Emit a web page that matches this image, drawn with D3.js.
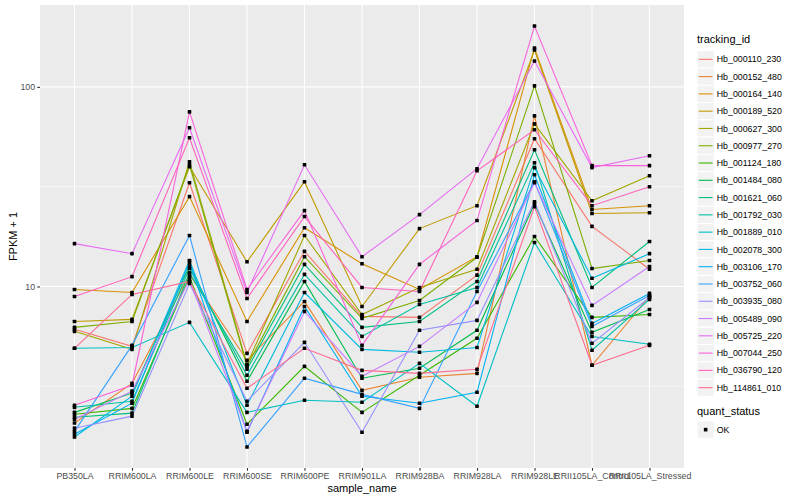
<!DOCTYPE html>
<html>
<head>
<meta charset="utf-8">
<script src="https://cdn.jsdelivr.net/npm/d3@7"></script>
<style>
body { margin: 0; background: #fff; }
text { font-family: "Liberation Sans", Arial, Helvetica, sans-serif; }
</style>
</head>
<body>
<svg id="chart" width="800" height="500"></svg>
<script>
var sample_names = ["PB350LA", "RRIM600LA", "RRIM600LE", "RRIM600SE", "RRIM600PE", "RRIM901LA",
    "RRIM928BA", "RRIM928LA", "RRIM928LE", "RRII105LA_Control", "RRII105LA_Stressed"];

var tracking_ids = ["Hb_000110_230", "Hb_000152_480", "Hb_000164_140", "Hb_000189_520", "Hb_000627_300",
    "Hb_000977_270", "Hb_001124_180", "Hb_001484_080", "Hb_001621_060", "Hb_001792_030",
    "Hb_001889_010", "Hb_002078_300", "Hb_003106_170", "Hb_003752_060", "Hb_003935_080",
    "Hb_005489_090", "Hb_005725_220", "Hb_007044_250", "Hb_036790_120", "Hb_114861_010"];

// FPKM + 1, one row per tracking_id, one value per sample_name
var fpkm_plus_one = [
    [6.10, 5.01, 33.1, 4.62, 15.0, 7.08, 7.00, 11.4, 55.0, 20.0, 12.2],
    [2.07, 3.27, 11.5, 4.27, 8.41, 3.02, 3.51, 3.67, 71.6, 4.03, 8.91],
    [9.66, 9.33, 28.2, 6.68, 19.7, 13.0, 9.66, 14.1, 156.7, 24.3, 25.4],
    [6.68, 6.84, 39.8, 13.3, 33.5, 7.94, 19.5, 25.4, 153.1, 23.2, 23.4],
    [5.96, 4.84, 42.2, 4.07, 18.0, 7.24, 9.89, 12.2, 65.3, 26.9, 35.9],
    [6.24, 6.68, 40.7, 3.98, 14.1, 6.92, 8.51, 14.0, 101.2, 12.3, 13.5],
    [2.29, 2.45, 11.2, 2.04, 3.98, 2.34, 3.59, 5.50, 17.8, 7.00, 7.24],
    [2.34, 2.92, 12.7, 3.35, 10.6, 3.47, 3.89, 6.03, 26.0, 5.89, 7.67],
    [2.21, 2.32, 11.7, 3.85, 12.9, 6.24, 6.68, 10.6, 48.4, 9.89, 16.8],
    [2.48, 2.66, 12.3, 3.59, 11.5, 5.62, 8.13, 9.89, 41.7, 4.79, 8.61],
    [4.90, 4.95, 6.61, 2.34, 2.69, 2.63, 4.12, 2.51, 16.6, 5.62, 5.13],
    [1.76, 2.82, 13.5, 2.54, 9.33, 4.84, 4.68, 4.95, 39.4, 11.0, 14.6],
    [1.82, 2.60, 13.2, 1.86, 7.94, 2.82, 2.60, 2.95, 36.3, 6.53, 9.23],
    [1.88, 5.07, 18.0, 1.57, 3.47, 2.88, 2.45, 9.44, 33.5, 6.31, 9.02],
    [1.95, 2.24, 10.35, 2.66, 5.25, 1.86, 6.03, 6.76, 26.6, 5.19, 8.81],
    [2.16, 2.99, 10.8, 1.88, 7.50, 3.55, 5.01, 8.32, 33.1, 8.04, 12.6],
    [16.4, 14.6, 62.4, 9.33, 40.7, 14.1, 22.9, 38.9, 134.9, 39.4, 45.2],
    [2.54, 3.20, 75.0, 9.66, 24.0, 5.07, 12.9, 21.4, 201.8, 40.3, 40.3],
    [8.91, 11.2, 55.6, 8.71, 22.4, 9.89, 9.44, 38.0, 61.0, 25.4, 31.6],
    [4.90, 9.12, 10.6, 3.09, 4.90, 3.80, 3.67, 3.85, 25.1, 4.03, 5.07]
];

var quant_status = ["OK"];
var y_breaks = [10, 100];
var y_minor_breaks = [Math.pow(10, 0.5), Math.pow(10, 1.5)];

// ggplot2 default hue palette for 20 levels
var hue_colors = ["#F8766D", "#EA8331", "#D89000", "#C09B00", "#A3A500", "#7CAE00", "#39B600",
    "#00BB4E", "#00BF7D", "#00C1A3", "#00BFC4", "#00BAE0", "#00B0F6", "#35A2FF", "#9590FF",
    "#C77CFF", "#E76BF3", "#FA62DB", "#FF62BC", "#FF6C91"];

var panel = {left: 40, right: 684, top: 5, bottom: 468};
var pt = 3.6;
var svg = d3.select("#chart");

var series = tracking_ids.map(function(id, i) {
    return {
        id: id,
        color: hue_colors[i],
        values: sample_names.map(function(s, j) {
            return {sample: s, value: fpkm_plus_one[i][j]};
        })
    };
});

// log10 expansion of 5% like ggplot
var all_values = d3.merge(fpkm_plus_one);
var log_lo = Math.log10(d3.min(all_values)), log_hi = Math.log10(d3.max(all_values));
var pad = (log_hi - log_lo) * 0.05;

var x = d3.scalePoint()
    .domain(sample_names)
    .range([panel.left, panel.right])
    .padding(0.6);

var y = d3.scaleLog()
    .domain([Math.pow(10, log_lo - pad), Math.pow(10, log_hi + pad)])
    .range([panel.bottom, panel.top]);

svg.append("rect")
    .attr("x", panel.left)
    .attr("y", panel.top)
    .attr("width", panel.right - panel.left)
    .attr("height", panel.bottom - panel.top)
    .attr("fill", "#EBEBEB");

var grid = svg.append("g");

grid.selectAll(".minor")
    .data(y_minor_breaks)
    .enter()
    .append("line")
    .attr("x1", panel.left).attr("x2", panel.right)
    .attr("y1", function(d) { return y(d); })
    .attr("y2", function(d) { return y(d); })
    .attr("stroke", "#fff")
    .attr("stroke-width", 0.55);

grid.selectAll(".major-y")
    .data(y_breaks)
    .enter()
    .append("line")
    .attr("x1", panel.left).attr("x2", panel.right)
    .attr("y1", function(d) { return y(d); })
    .attr("y2", function(d) { return y(d); })
    .attr("stroke", "#fff")
    .attr("stroke-width", 1.1);

grid.selectAll(".major-x")
    .data(sample_names)
    .enter()
    .append("line")
    .attr("x1", function(d) { return x(d); })
    .attr("x2", function(d) { return x(d); })
    .attr("y1", panel.top).attr("y2", panel.bottom)
    .attr("stroke", "#fff")
    .attr("stroke-width", 1.1);

var line = d3.line()
    .x(function(d) { return x(d.sample); })
    .y(function(d) { return y(d.value); });

svg.append("g")
    .selectAll("path")
    .data(series)
    .enter()
    .append("path")
    .attr("d", function(d) { return line(d.values); })
    .attr("fill", "none")
    .attr("stroke", function(d) { return d.color; })
    .attr("stroke-width", 1.1);

svg.append("g")
    .selectAll("rect")
    .data(d3.merge(series.map(function(s) { return s.values; })))
    .enter()
    .append("rect")
    .attr("x", function(d) { return x(d.sample) - pt / 2; })
    .attr("y", function(d) { return y(d.value) - pt / 2; })
    .attr("width", pt)
    .attr("height", pt)
    .attr("rx", 0.6)
    .attr("fill", "#000");

// axes
var y_axis = svg.append("g")
    .attr("transform", "translate(" + panel.left + ",0)")
    .call(d3.axisLeft(y).tickValues(y_breaks).tickFormat(d3.format("d")).tickSize(2.75).tickPadding(2.2));
var x_axis = svg.append("g")
    .attr("transform", "translate(0," + panel.bottom + ")")
    .call(d3.axisBottom(x).tickSize(2.75).tickPadding(2.2));

[x_axis, y_axis].forEach(function(ax) {
    ax.select(".domain").remove();
    ax.selectAll(".tick line").attr("stroke", "#333333").attr("stroke-width", 1.1);
    ax.selectAll(".tick text")
        .attr("fill", "#4D4D4D")
        .style("font-size", "8.8px")
        .style("font-family", "'Liberation Sans', Arial, sans-serif");
});

svg.append("text")
    .attr("x", (panel.left + panel.right) / 2)
    .attr("y", 492)
    .attr("text-anchor", "middle")
    .style("font-size", "11px")
    .text("sample_name");

svg.append("text")
    .attr("transform", "translate(17," + (panel.top + panel.bottom) / 2 + ") rotate(-90)")
    .attr("text-anchor", "middle")
    .style("font-size", "11px")
    .text("FPKM + 1");

// legend: tracking_id
var legend = svg.append("g").attr("transform", "translate(697,0)");
var key_size = 17.28, key_top = 50.7;

legend.append("text")
    .attr("x", 0).attr("y", 42.5)
    .style("font-size", "11px")
    .text("tracking_id");

var keys = legend.selectAll(".key")
    .data(series)
    .enter()
    .append("g")
    .attr("transform", function(d, i) { return "translate(0," + (key_top + i * key_size) + ")"; });

keys.append("rect")
    .attr("width", key_size).attr("height", key_size)
    .attr("fill", "#F2F2F2")
    .attr("stroke", "#fff")
    .attr("stroke-width", 1);

keys.append("line")
    .attr("x1", 1.7).attr("x2", key_size - 1.7)
    .attr("y1", key_size / 2).attr("y2", key_size / 2)
    .attr("stroke", function(d) { return d.color; })
    .attr("stroke-width", 1.1);

keys.append("text")
    .attr("x", key_size + 2.5)
    .attr("y", key_size / 2 + 3.1)
    .style("font-size", "8.8px")
    .text(function(d) { return d.id; });

// legend: quant_status
legend.append("text")
    .attr("x", 0).attr("y", 414.7)
    .style("font-size", "11px")
    .text("quant_status");

var status_keys = legend.selectAll(".status")
    .data(quant_status)
    .enter()
    .append("g")
    .attr("transform", function(d, i) { return "translate(0," + (421 + i * key_size) + ")"; });

status_keys.append("rect")
    .attr("width", key_size).attr("height", key_size)
    .attr("fill", "#F2F2F2")
    .attr("stroke", "#fff");

status_keys.append("rect")
    .attr("x", key_size / 2 - pt / 2).attr("y", key_size / 2 - pt / 2)
    .attr("width", pt).attr("height", pt)
    .attr("fill", "#000");

status_keys.append("text")
    .attr("x", key_size + 2.5)
    .attr("y", key_size / 2 + 3.1)
    .style("font-size", "8.8px")
    .text(function(d) { return d; });
</script>
</body>
</html>
